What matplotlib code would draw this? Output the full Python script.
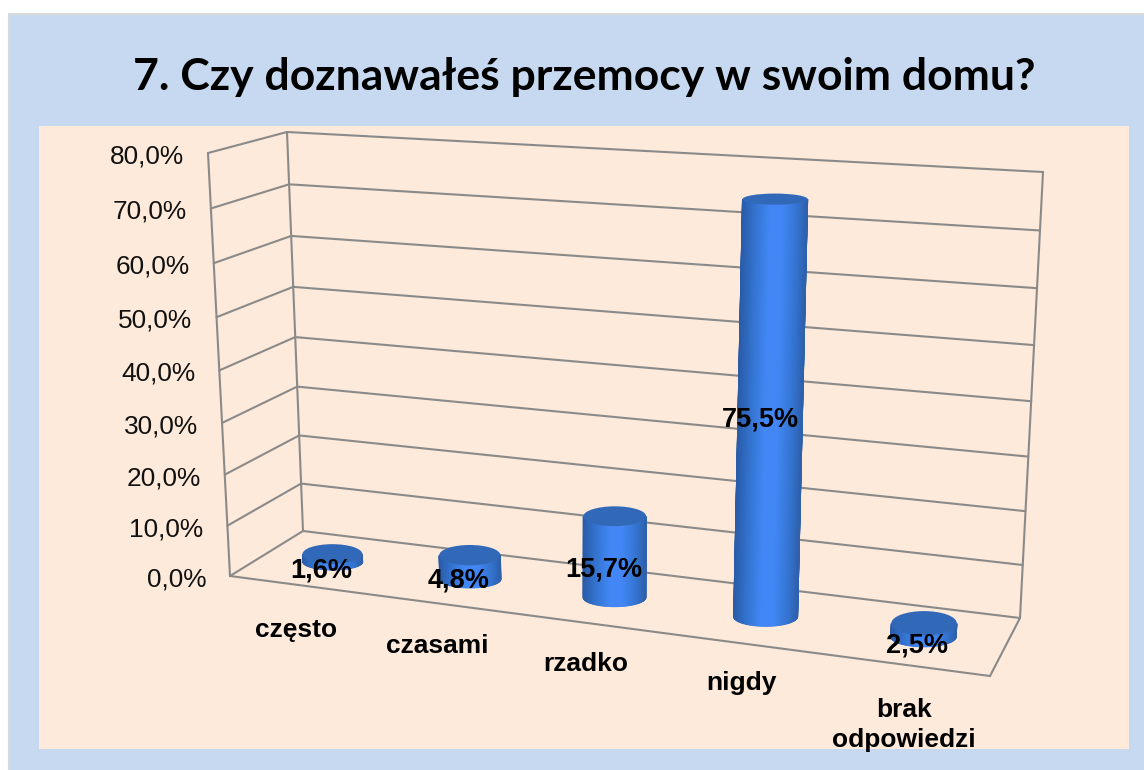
import matplotlib
matplotlib.use("Agg")
import matplotlib.pyplot as plt
from matplotlib.colors import LinearSegmentedColormap
from matplotlib.patches import Ellipse, Rectangle
import numpy as np

title = "7. Czy doznawałeś przemocy w swoim domu?"
categories = ["często", "czasami", "rzadko", "nigdy", "brak\nodpowiedzi"]
values = [1.6, 4.8, 15.7, 75.5, 2.5]
value_labels = ["1,6%", "4,8%", "15,7%", "75,5%", "2,5%"]
axis_ticks = [0, 10, 20, 30, 40, 50, 60, 70, 80]
axis_labels = ["0,0%", "10,0%", "20,0%", "30,0%", "40,0%", "50,0%", "60,0%", "70,0%", "80,0%"]

# corners of the 3d box in pixels: (left/right, front/back, bottom/top)
FL0 = np.array([230.0, 576.0])
FR0 = np.array([990.0, 676.0])
BL0 = np.array([303.0, 531.0])
BR0 = np.array([1020.0, 618.0])
FL1 = np.array([208.0, 153.0])
FR1 = np.array([1015.0, 203.0])
BL1 = np.array([287.0, 132.0])
BR1 = np.array([1043.0, 172.0])
YMAX = 80.0

# small nudges for the text under the floor and on the bars
cat_dy = [52, 49, 48, 46, 52]
val_dx = [-11, -11, -11, -10, -7]
val_dy = [13, 13, 13, 12, 16]


def warp_u(u):
    return u - 0.115 * u * (1 - u)


def warp_t(t):
    return t - 0.056 * t * (1 - t)


def project(u, d, v):
    # u across the categories 0-1, d depth 0 front - 1 back, v in percent
    a = warp_u(u)
    t = warp_t(v / YMAX)
    low = (FL0 * (1 - a) + FR0 * a) * (1 - d) + (BL0 * (1 - a) + BR0 * a) * d
    high = (FL1 * (1 - a) + FR1 * a) * (1 - d) + (BL1 * (1 - a) + BR1 * a) * d
    return low * (1 - t) + high * t


def radii(u, v):
    a = warp_u(u)
    t = v / YMAX
    rx = (29.6 + 3.5 * a) * (1 + 0.02 * t)
    ry = (9.7 + 3.0 * a) * (1 - 0.55 * t)
    return rx, ry


fig = plt.figure(figsize=(11.44, 7.7), dpi=100, facecolor="white")
ax = fig.add_axes([0, 0, 1, 1])
ax.set_xlim(0, 1144)
ax.set_ylim(770, 0)
ax.axis("off")

ax.add_patch(Rectangle((9, 14), 1140, 760, facecolor="#c6d9f1", edgecolor="#d9d9d9", lw=1.5, zorder=0))
ax.add_patch(Rectangle((39, 126), 1090, 623, facecolor="#fdeada", edgecolor="none", zorder=0.5))

ax.text(584, 90, title, fontsize=32, fontweight="bold", family="Lato", color="black",
        ha="center", va="baseline")

grid_color = "#8a8a8a"
grid_lw = 1.5


def grid_line(p, q):
    ax.plot([p[0], q[0]], [p[1], q[1]], color=grid_color, lw=grid_lw, zorder=1, solid_capstyle="round")


for tick, lab in zip(axis_ticks, axis_labels):
    grid_line(project(0, 0, tick), project(0, 1, tick))
    grid_line(project(0, 1, tick), project(1, 1, tick))
    pos = project(0, 0, tick)
    ax.text(pos[0] - 24, pos[1] + 3.5, lab, fontsize=18.9, family="Liberation Sans",
            ha="right", va="center", color="#111111")

grid_line(project(0, 0, 0), project(0, 0, YMAX))
grid_line(project(0, 1, 0), project(0, 1, YMAX))
grid_line(project(1, 1, 0), project(1, 1, YMAX))
grid_line(project(0, 0, 0), project(1, 0, 0))
grid_line(project(1, 0, 0), project(1, 1, 0))

body_cmap = LinearSegmentedColormap.from_list(
    "body",
    [(0, "#2a5ca8"), (0.2, "#3474d0"), (0.42, "#4287f5"), (0.62, "#4287f5"), (0.85, "#3474d0"), (1, "#2e60ac")],
)
top_color = "#3268b8"

theta = np.linspace(0, np.pi, 61)
shade = (1 - np.cos(theta)) / 2

for i, (cat, val, lab) in enumerate(zip(categories, values, value_labels)):
    u = (i + 0.5) / len(categories)
    base = project(u, 0.5, 0)
    top = project(u, 0.5, val)
    rx0, ry0 = radii(u, 0)
    rx1, ry1 = radii(u, val)
    ry0 = ry0 * 0.82

    xs = np.vstack([base[0] - rx0 * np.cos(theta), top[0] - rx1 * np.cos(theta)])
    ys = np.vstack([base[1] + ry0 * np.sin(theta), top[1] + ry1 * np.sin(theta)])
    cs = np.vstack([shade, shade])
    ax.pcolormesh(xs, ys, cs, cmap=body_cmap, shading="gouraud", vmin=0, vmax=1, zorder=3)
    ax.add_patch(Ellipse(top, 2 * rx1, 2 * ry1, facecolor=top_color, edgecolor="none", zorder=4))

    ax.text((top[0] + base[0]) / 2 + val_dx[i], (top[1] + base[1]) / 2 + val_dy[i], lab, fontsize=19.5,
            fontweight="bold", family="Liberation Sans", ha="center", va="center", color="black", zorder=6)

    front = project(u, 0, 0)
    lines = cat.split("\n")
    for k, line in enumerate(lines):
        ax.text(front[0] - 2, front[1] + cat_dy[i] + 30 * k, line, fontsize=19, fontweight="bold",
                family="Liberation Sans", ha="center", va="baseline", color="black", zorder=6)

ax.set_xlim(0, 1144)
ax.set_ylim(770, 0)
fig.savefig("out.png", dpi=100)
